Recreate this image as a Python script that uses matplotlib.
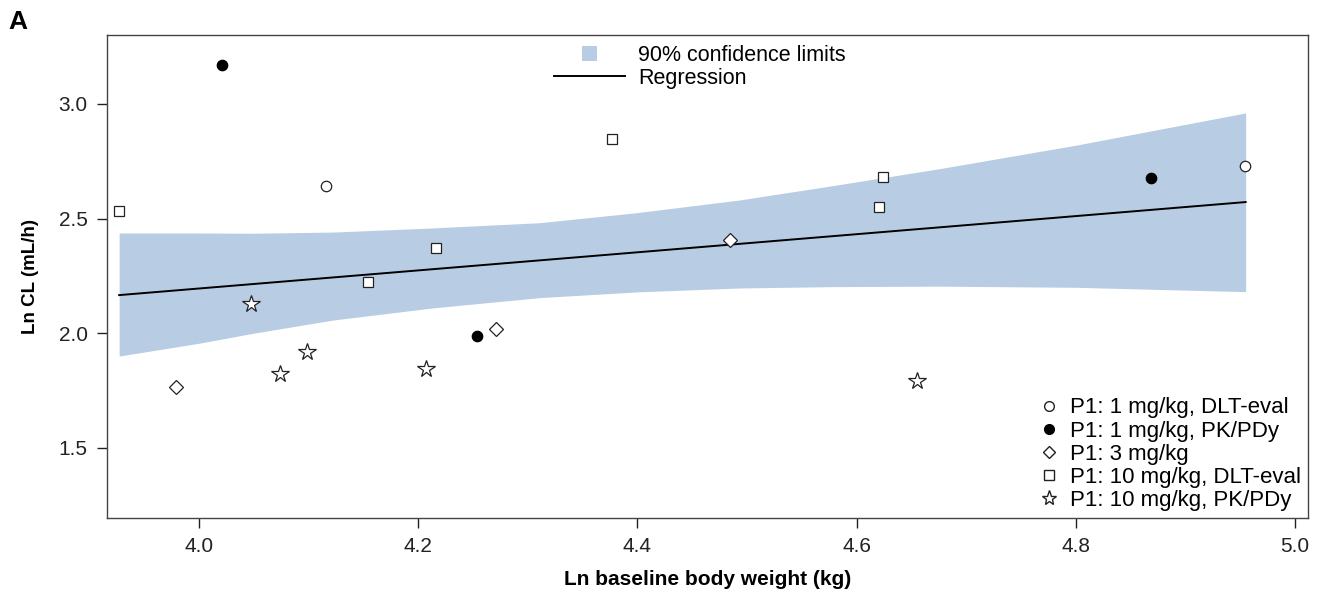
import matplotlib
matplotlib.use("Agg")
import matplotlib.pyplot as plt
from matplotlib.lines import Line2D
from matplotlib.patches import Patch

plt.rcParams['font.family'] = ['Liberation Sans', 'DejaVu Sans']

# ln body weight / ln CL per group
dlt1_x = [4.116, 4.954]
dlt1_y = [2.642, 2.729]
pk1_x = [4.021, 4.254, 4.869]
pk1_y = [3.170, 1.987, 2.677]
dose3_x = [3.979, 4.271, 4.484]
dose3_y = [1.764, 2.017, 2.408]
dlt10_x = [3.927, 4.154, 4.216, 4.377, 4.620, 4.624]
dlt10_y = [2.531, 2.225, 2.373, 2.847, 2.550, 2.681]
pk10_x = [4.047, 4.074, 4.098, 4.207, 4.655]
pk10_y = [2.127, 1.821, 1.917, 1.843, 1.790]

# regression line and 90% band
reg_x = [3.927, 4.955]
reg_y = [2.166, 2.572]
band_x = [3.927, 4.000, 4.050, 4.122, 4.213, 4.311, 4.400, 4.493, 4.580, 4.676, 4.800, 4.955]
band_hi = [2.437, 2.437, 2.436, 2.441, 2.459, 2.482, 2.526, 2.581, 2.645, 2.718, 2.820, 2.961]
band_lo = [1.900, 1.956, 2.000, 2.057, 2.110, 2.155, 2.180, 2.197, 2.203, 2.205, 2.200, 2.181]

fig = plt.figure(figsize=(13.22, 5.98), dpi=100)
ax = fig.add_axes([0.081, 0.134, 0.9085, 0.8075])

band_col = '#b8cde4'
ax.fill_between(band_x, band_lo, band_hi, color=band_col, lw=0, zorder=1)
ax.plot(reg_x, reg_y, color='black', lw=1.4, zorder=2)

mk = dict(linestyle='none', zorder=3)
ax.plot(dlt1_x, dlt1_y, marker='o', ms=7.5, mfc='white', mec='#222222', mew=0.9, **mk)
ax.plot(pk1_x, pk1_y, marker='o', ms=7.5, mfc='black', mec='black', mew=0.9, **mk)
ax.plot(dose3_x, dose3_y, marker='D', ms=7, mfc='white', mec='#222222', mew=0.9, **mk)
ax.plot(dlt10_x, dlt10_y, marker='s', ms=7.5, mfc='white', mec='#222222', mew=0.9, **mk)
ax.plot(pk10_x, pk10_y, marker='*', ms=13, mfc='white', mec='#222222', mew=0.9, **mk)

ax.set_xlim(3.916, 5.012)
ax.set_ylim(1.194, 3.301)
ax.set_xticks([4.0, 4.2, 4.4, 4.6, 4.8, 5.0])
ax.set_yticks([1.5, 2.0, 2.5, 3.0])
ax.xaxis.set_major_formatter(matplotlib.ticker.FormatStrFormatter('%.1f'))
ax.yaxis.set_major_formatter(matplotlib.ticker.FormatStrFormatter('%.1f'))
ax.tick_params(direction='out', length=7, width=1, labelsize=15, colors='#222222', pad=7)
for s in ax.spines.values():
    s.set_color('#444444')
    s.set_linewidth(1)

ax.set_xlabel('Ln baseline body weight (kg)', fontsize=15, fontweight='bold', labelpad=10)
ax.set_ylabel('Ln CL (mL/h)', fontsize=13.5, fontweight='bold', labelpad=14)
fig.text(0.006, 0.952, 'A', fontsize=19, fontweight='bold')

fs_top = 15.5
top_handles = [Patch(facecolor=band_col, edgecolor='none'),
               Line2D([0], [0], color='black', lw=1.4)]
leg1 = ax.legend(top_handles, ['90% confidence limits', 'Regression'],
                 loc='upper left', bbox_to_anchor=(0.364, 1.0), frameon=False,
                 fontsize=fs_top, handlelength=3.3, handletextpad=0.6,
                 labelspacing=0.1, borderaxespad=0.05)
p = leg1.get_patches()[0]
p.set_width(p.get_height())
p.set_x((3.3 * fs_top - p.get_height()) / 2)
ax.add_artist(leg1)

grp_handles = [
    Line2D([0], [0], marker='o', ms=7, mfc='white', mec='#222222', ls='none'),
    Line2D([0], [0], marker='o', ms=7, mfc='black', mec='black', ls='none'),
    Line2D([0], [0], marker='D', ms=6.5, mfc='white', mec='#222222', ls='none'),
    Line2D([0], [0], marker='s', ms=7, mfc='white', mec='#222222', ls='none'),
    Line2D([0], [0], marker='*', ms=11, mfc='white', mec='#222222', ls='none'),
]
grp_labels = ['P1: 1 mg/kg, DLT-eval', 'P1: 1 mg/kg, PK/PDy', 'P1: 3 mg/kg',
              'P1: 10 mg/kg, DLT-eval', 'P1: 10 mg/kg, PK/PDy']
ax.legend(grp_handles, grp_labels, loc='lower right', frameon=False,
          fontsize=16, handlelength=0.7, handletextpad=0.6,
          labelspacing=0.1, borderaxespad=0.1, borderpad=0.2)

fig.savefig('out.png', dpi=100)
